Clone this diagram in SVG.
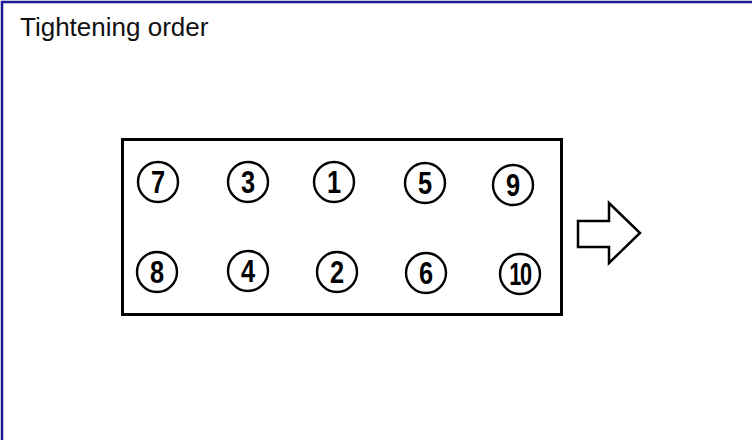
<svg xmlns="http://www.w3.org/2000/svg" width="752" height="440" viewBox="0 0 752 440">
<style>
.bolt circle{fill:#fff;stroke:#000;stroke-width:2.4}
.bolt text{font-family:"Liberation Sans",Arial,sans-serif;font-weight:bold;font-size:31px;text-anchor:middle;fill:#000}
</style>
<rect x="0" y="0" width="752" height="440" fill="#fff"/>
<path d="M2,440 V2 H752" fill="none" stroke="#1a1a96" stroke-width="2.5"/>
<text x="20" y="36" font-family="Liberation Sans, Arial, sans-serif" font-size="26" fill="#111">Tightening order</text>
<g id="head"><rect x="122.5" y="139.5" width="439" height="175" fill="#fff" stroke="#000" stroke-width="3"/></g>
<g id="b7" class="bolt"><circle cx="158" cy="182" r="20"/><text transform="translate(158,193) scale(0.82,1)">7</text></g>
<g id="b3" class="bolt"><circle cx="248" cy="182" r="20"/><text transform="translate(248,193) scale(0.82,1)">3</text></g>
<g id="b1" class="bolt"><circle cx="334" cy="182" r="20"/><text transform="translate(334,193) scale(0.82,1)">1</text></g>
<g id="b5" class="bolt"><circle cx="425" cy="183" r="20"/><text transform="translate(425,194) scale(0.82,1)">5</text></g>
<g id="b9" class="bolt"><circle cx="513" cy="185" r="20"/><text transform="translate(513,196) scale(0.82,1)">9</text></g>
<g id="b8" class="bolt"><circle cx="157" cy="272" r="20"/><text transform="translate(157,283) scale(0.82,1)">8</text></g>
<g id="b4" class="bolt"><circle cx="248" cy="271" r="20"/><text transform="translate(248,282) scale(0.82,1)">4</text></g>
<g id="b2" class="bolt"><circle cx="337" cy="272" r="20"/><text transform="translate(337,283) scale(0.82,1)">2</text></g>
<g id="b6" class="bolt"><circle cx="426" cy="273" r="20"/><text transform="translate(426,284) scale(0.82,1)">6</text></g>
<g id="b10" class="bolt"><circle cx="520" cy="274" r="20"/><text transform="translate(520,285) scale(0.7,1)" letter-spacing="-2">10</text></g>
<g id="connectors"><polygon id="arrow" points="578,221 609,221 609,203 640,233 609,263 609,247 578,247" fill="#fff" stroke="#000" stroke-width="2.5" stroke-linejoin="miter"/></g>
</svg>
